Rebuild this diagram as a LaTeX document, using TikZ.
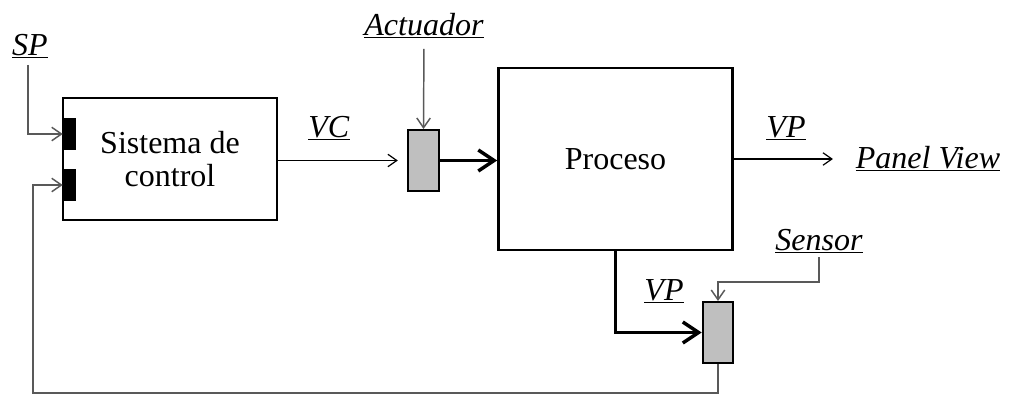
\documentclass[tikz,border=0pt]{standalone}
\usepackage{fontspec}
\setmainfont{Liberation Serif}
\usetikzlibrary{arrows.meta}

\begin{document}
\begin{tikzpicture}[
    x=0.75pt, y=-0.75pt,
    >={Straight Barb[length=4pt 3, width=6pt 3.75]},
    font=\fontsize{24}{28}\selectfont,
    block/.style={rectangle, draw, line width=2pt, align=center},
    tab/.style={rectangle, fill=black, minimum width=9.75pt, minimum height=24pt, inner sep=0},
    unit/.style={rectangle, draw, line width=1.5pt, fill=gray!50, minimum width=23pt, minimum height=45.75pt, inner sep=0},
    lbl/.style={anchor=base, inner sep=0},
    sig/.style={line width=0.9pt},
    aux/.style={line width=1.1pt, draw=black!65},
    flow/.style={line width=2.6pt}
]
\useasboundingbox (0,0) rectangle (1010,396);

% Blocks
\node[block, minimum width=160.5pt, minimum height=91.5pt] (ctrl) at (170,159) {\raisebox{-3pt}{Sistema de}\\control};
\node[tab] (tabsp) at (69.5,134) {};
\node[tab] (tabfb) at (69.5,185) {};
\node[unit] (act) at (423.5,160.5) {};
\node[block, minimum width=175.5pt, minimum height=136.5pt] (proc) at (615.5,159) {\raisebox{-3pt}{Proceso}};
\node[unit] (sens) at (718,332.5) {};

% Labels
\node[lbl] (sp) at (30,55) {\underline{\textit{SP}}};
\node[lbl] (actlbl) at (424,35) {\underline{\textit{Actuador}}};
\node[lbl] (vc) at (329,137) {\underline{\textit{VC}}};
\node[lbl] (vpout) at (786,137) {\underline{\textit{VP}}};
\node[lbl] (panel) at (928,168) {\underline{\textit{Panel View}}};
\node[lbl] (senslbl) at (819,250) {\underline{\textit{Sensor}}};
\node[lbl] (vpin) at (664,300) {\underline{\textit{VP}}};

% Bends
\coordinate (sbend) at (819,282);
\coordinate (fbcorner) at (33,393);

% Arrows
\draw[aux, ->, shorten <=5pt] ([xshift=-1.5pt]sp.south) |- (tabsp.west);
\draw[sig, ->, shorten >=7pt] (ctrl.east |- act.west) -- (act.west);
\draw[aux, ->, shorten <=8pt] (actlbl.south) -- (act.north);
\draw[flow, ->] (act.east) -- (act.east -| proc.west);
\draw[sig, ->, shorten >=17pt] (proc.east) -- (proc.east -| panel.west);
\draw[flow, ->] (proc.south) |- (sens.west);
\draw[aux, ->, shorten <=3pt] (senslbl.south) -- (sbend) -| (sens.north);
\draw[aux, ->] (sens.south) |- (fbcorner) |- (tabfb.west);

\end{tikzpicture}
\end{document}
